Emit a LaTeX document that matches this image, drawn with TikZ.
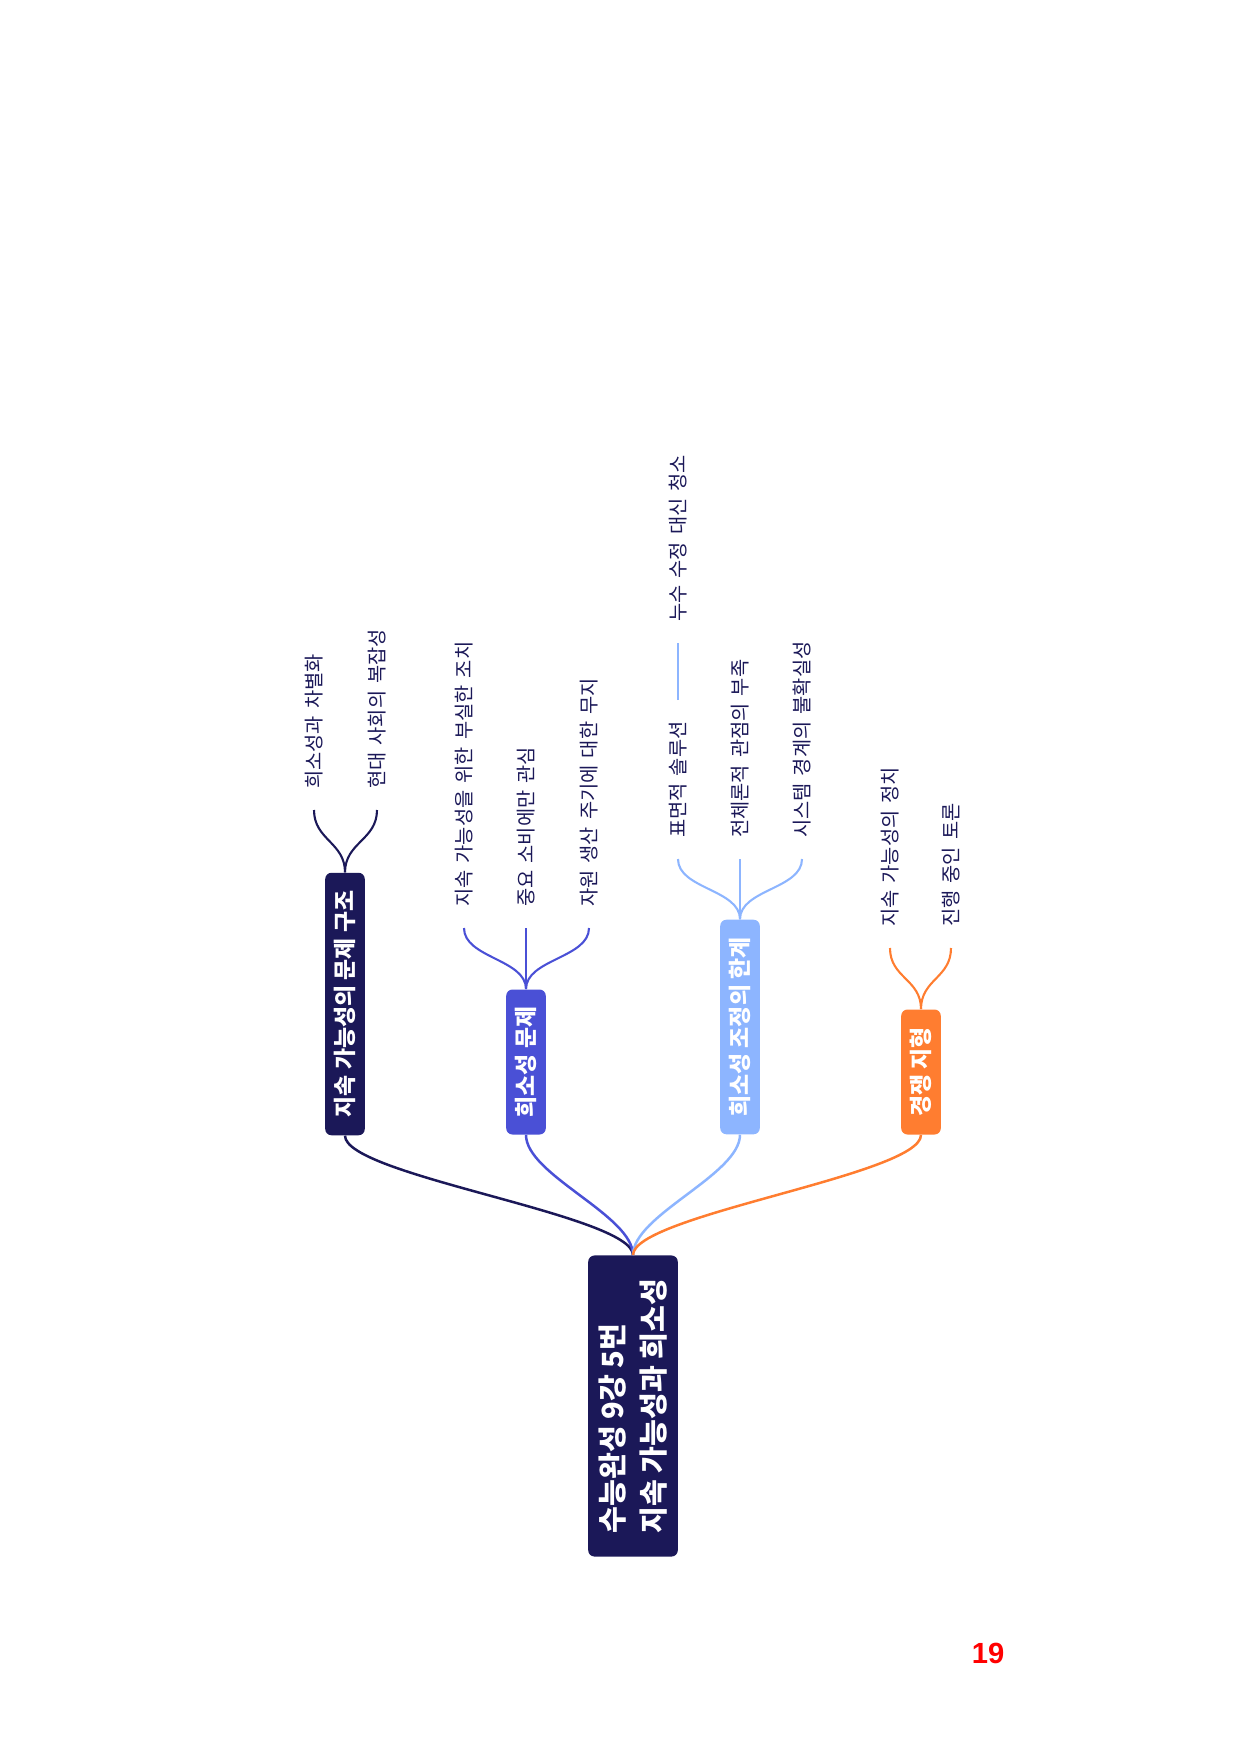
\documentclass[tikz,border=0pt]{standalone}
\usepackage{fontspec}
\setmainfont{Noto Sans CJK KR}
\newfontfamily\leaffont{Noto Sans CJK KR}[WordSpace=1.6]
\newfontfamily\numfont{Liberation Sans}
\usepackage{tikz}
\definecolor{navy}{HTML}{1B1858}
\definecolor{royal}{HTML}{4A50D6}
\definecolor{sky}{HTML}{8DB5FF}
\definecolor{tangerine}{HTML}{FF7D30}

\begin{document}
\begin{tikzpicture}[x=0.48pt,y=-0.48pt]
\tikzstyle{root} = [fill=navy, text=white, rounded corners=3pt, rotate=90, align=left, font=\bfseries\fontsize{14}{20}\selectfont, minimum width=144.5pt, minimum height=43pt]
\tikzstyle{topic} = [text=white, rounded corners=3pt, rotate=90, font=\bfseries\fontsize{11}{13}\selectfont, minimum height=19pt, inner sep=0pt]
\tikzstyle{leaf} = [rotate=90, anchor=west, text=navy, font=\leaffont\fontsize{9.5}{11}\selectfont, inner xsep=10pt, inner ysep=0pt]
\tikzstyle{trunk} = [line width=1.2pt]
\tikzstyle{twig} = [line width=1pt]
\useasboundingbox (0,0) rectangle (1240,1754);

% Root
\node [root] (root) at (633,1406) {수능완성 9강 5번\\지속 가능성과 희소성};

% Topics
\node [topic, fill=navy, minimum width=126pt] (structure) at (345,1004) {지속 가능성의 문제 구조};
\node [topic, fill=royal, minimum width=69.6pt] (scarcity) at (526,1062) {희소성 문제};
\node [topic, fill=sky, minimum width=103pt] (limits) at (740,1027) {희소성 조정의 한계};
\node [topic, fill=tangerine, minimum width=60pt] (terrain) at (921,1072) {경쟁 지형};

\draw[trunk, navy] (root.east) .. controls +(0,-40) and +(0,40) .. (structure.west);
\draw[trunk, royal] (root.east) .. controls +(0,-40) and +(0,40) .. (scarcity.west);
\draw[trunk, sky] (root.east) .. controls +(0,-40) and +(0,40) .. (limits.west);
\draw[trunk, tangerine] (root.east) .. controls +(0,-40) and +(0,40) .. (terrain.west);

% Topic 1
\node [leaf] (differ) at (314,810) {희소성과 차별화};
\node [leaf] (complex) at (377,810) {현대 사회의 복잡성};
\draw[twig, navy] (structure.east) .. controls +(0,-30) and +(0,30) .. (differ.west);
\draw[twig, navy] (structure.east) .. controls +(0,-30) and +(0,30) .. (complex.west);

% Topic 2
\node [leaf] (weak) at (464,928) {지속 가능성을 위한 부실한 조치};
\node [leaf] (consume) at (526,928) {중요 소비에만 관심};
\node [leaf] (cycle) at (589,928) {자원 생산 주기에 대한 무지};
\draw[twig, royal] (scarcity.east) .. controls +(0,-30) and +(0,30) .. (weak.west);
\draw[twig, royal] (scarcity.east) -- (consume.west);
\draw[twig, royal] (scarcity.east) .. controls +(0,-30) and +(0,30) .. (cycle.west);

% Topic 3
\node [leaf] (surface) at (678,859) {표면적 솔루션};
\node [leaf] (holism) at (740,859) {전체론적 관점의 부족};
\node [leaf] (bounds) at (802,859) {시스템 경계의 불확실성};
\node [leaf] (cleanup) at (678,643) {누수 수정 대신 청소};
\draw[twig, sky] (limits.east) .. controls +(0,-30) and +(0,30) .. (surface.west);
\draw[twig, sky] (limits.east) -- (holism.west);
\draw[twig, sky] (limits.east) .. controls +(0,-30) and +(0,30) .. (bounds.west);
\draw[twig, sky] (surface.east) -- (cleanup.west);

% Topic 4
\node [leaf] (politics) at (890,948) {지속 가능성의 정치};
\node [leaf] (ongoing) at (951,948) {진행 중인 토론};
\draw[twig, tangerine] (terrain.east) .. controls +(0,-30) and +(0,30) .. (politics.west);
\draw[twig, tangerine] (terrain.east) .. controls +(0,-30) and +(0,30) .. (ongoing.west);

% Page number
\node [text=red, font=\numfont\bfseries\fontsize{14}{16}\selectfont] (pagenum) at (988,1653) {19};

\end{tikzpicture}
\end{document}
